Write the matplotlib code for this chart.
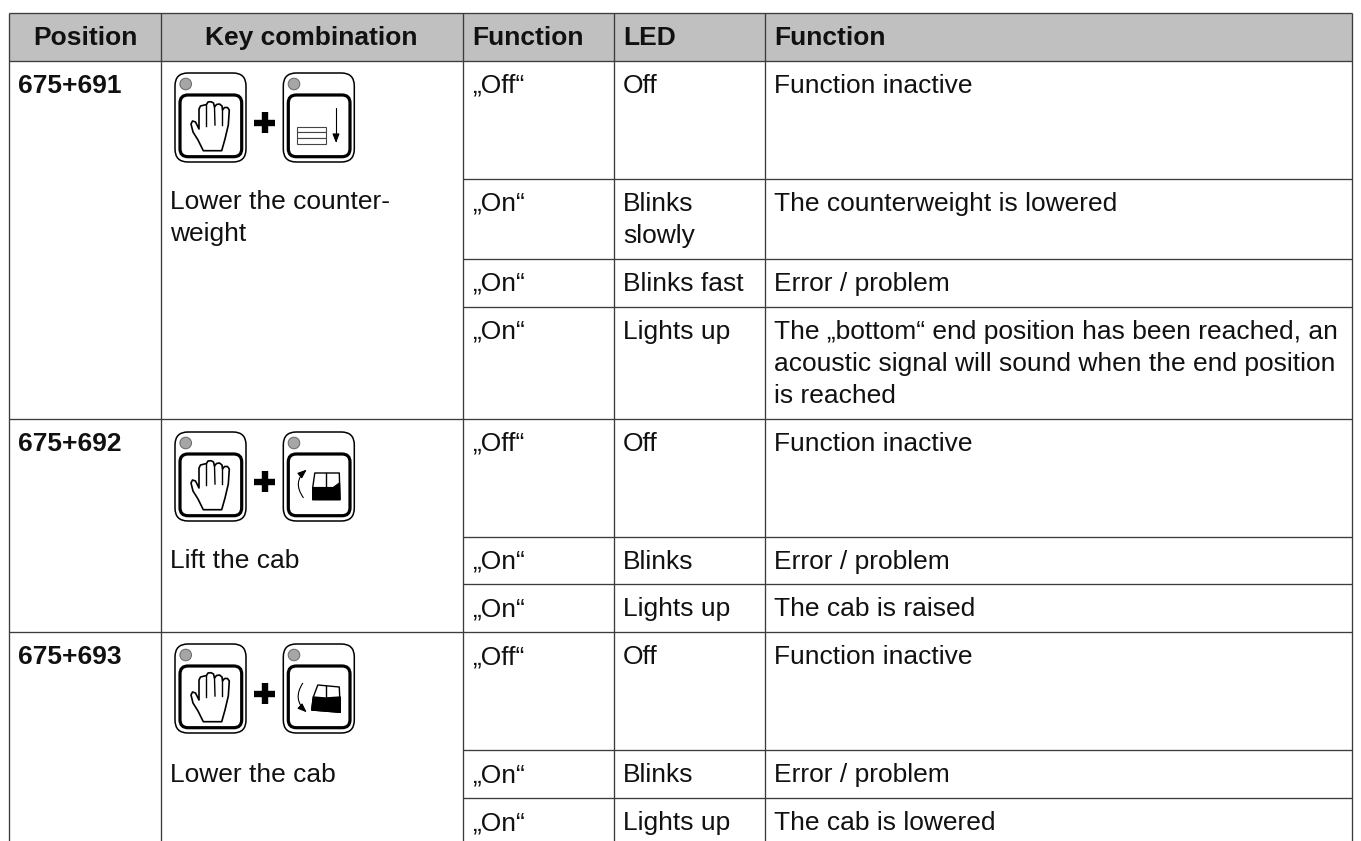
"""Key combination table, drawn in pixel coordinates."""
import matplotlib
matplotlib.use("Agg")
import matplotlib.pyplot as plt
from matplotlib.patches import FancyArrowPatch, FancyBboxPatch, Circle, Rectangle, Polygon
from matplotlib.path import Path

plt.rcParams["font.family"] = ["Liberation Sans", "DejaVu Sans"]

W, H = 1361, 841
LINE = "#3c3c3c"
HEAD = "#c0c0c0"
INK = "#111111"
FS = 19

COL_X = [9.5, 161, 463.5, 614.5, 765.5, 1352]
TOP, HEAD_BOTTOM, BOTTOM = 13, 60.7, 841
HEADERS = ["Position", "Key combination", "Function", "LED", "Function"]
HEAD_X = [85, 311.7, 472, 623, 774]
HEAD_ALIGN = ["center", "center", "left", "left", "left"]

POSITIONS = ["675+691", "675+692", "675+693"]
BLOCK_Y = [60.7, 418.7, 632]
ROW_TOP = [60.7, 178.5, 259, 306.7, 418.7, 536.7, 584.3, 632, 750.3, 798.3]

ACTIONS = [["Lower the counter-", "weight"], ["Lift the cab"], ["Lower the cab"]]
ACTION_Y = [[209, 240.7], [568], [782]]

FUNC = ["„Off“", "„On“", "„On“", "„On“", "„Off“", "„On“", "„On“", "„Off“", "„On“", "„On“"]
LED = ["Off", "Blinks\nslowly", "Blinks fast", "Lights up", "Off", "Blinks", "Lights up",
       "Off", "Blinks", "Lights up"]
TEXT = ["Function inactive", "The counterweight is lowered", "Error / problem",
        "The „bottom“ end position has been reached, an\nacoustic signal will sound when the end position\nis reached",
        "Function inactive", "Error / problem", "The cab is raised",
        "Function inactive", "Error / problem", "The cab is lowered"]

KEY_TOP = [73, 432, 644]
KEY_X = [175, 283.3]
PLUS_X = 265
ICONS = ["down", "up", "lower"]

# outlines in px relative to the key's top left corner
HAND = [(28.3, 77.7), (46.7, 77.7), (50, 66), (53.3, 52), (54.3, 37), (52.5, 34.5), (49.5, 34.5), (47.5, 37),
        (47, 33), (44.5, 31), (41.5, 31.5), (39.5, 34), (38.5, 30), (36, 28.7), (33, 29), (31.5, 31.5),
        (29.5, 32), (25.5, 33), (24, 36), (24, 56), (20.5, 49), (17.5, 48), (16, 51), (18, 59), (23, 67)]
FINGERS = [[(31.5, 31.5), (31.5, 53)], [(39.5, 34), (40, 52)], [(47.5, 37), (47.5, 52)]]
CAB_UP = [(31.5, 41), (56, 41), (56.7, 67.6), (29.4, 67.6), (29.4, 55.6)]
CAB_UP_DARK = [(29.4, 55.6), (50, 55.6), (56.2, 51), (56.7, 67.6), (29.4, 67.6)]
CAB_LOW = [(34.5, 41), (56, 43), (57, 68.3), (28.4, 66), (30, 53)]
CAB_LOW_DARK = [(30, 53), (42, 54), (57, 53), (57, 68.3), (28.4, 66)]
ARROW_UP = [(20, 65.6), (9, 50), (23.4, 37.6)]
ARROW_LOW = [(19.4, 39.3), (9, 55), (23.4, 68.3)]

fig = plt.figure(figsize=(W / 100, H / 100), dpi=100)
ax = fig.add_axes([0, 0, 1, 1])
ax.set_xlim(0, W)
ax.set_ylim(H, 0)
ax.axis("off")

ax.add_patch(Rectangle((COL_X[0], TOP), COL_X[-1] - COL_X[0], HEAD_BOTTOM - TOP, fc=HEAD, ec="none"))


def hline(y, x0=COL_X[0], x1=COL_X[-1]):
    ax.plot([x0, x1], [y, y], color=LINE, lw=0.95, solid_capstyle="butt")


hline(TOP)
for y in BLOCK_Y:
    hline(y)
for y in ROW_TOP:
    if y not in BLOCK_Y:
        hline(y, COL_X[2])
for x in COL_X:
    ax.plot([x, x], [TOP, BOTTOM], color=LINE, lw=0.95, solid_capstyle="butt")

for x, lab, al in zip(HEAD_X, HEADERS, HEAD_ALIGN):
    ax.text(x, 45, lab, ha=al, va="baseline", fontsize=FS, fontweight="bold", color=INK)
for lab, y in zip(POSITIONS, BLOCK_Y):
    ax.text(18, y + 32.5, lab, ha="left", va="baseline", fontsize=FS, fontweight="bold", color=INK)
for lines, ys in zip(ACTIONS, ACTION_Y):
    for s, y in zip(lines, ys):
        ax.text(170, y, s, ha="left", va="baseline", fontsize=FS, color=INK)
for f, l, t, y in zip(FUNC, LED, TEXT, ROW_TOP):
    ax.text(472, y + 32, f, ha="left", va="baseline", fontsize=FS, color=INK)
    for col_x, s in ((623, l), (774, t)):
        for k, part in enumerate(s.split("\n")):
            ax.text(col_x, y + 32 + k * 32, part, ha="left", va="baseline", fontsize=FS, color=INK)


def rbox(x0, y0, x1, y1, r, lw):
    ax.add_patch(FancyBboxPatch((x0 + r, y0 + r), x1 - x0 - 2 * r, y1 - y0 - 2 * r,
                                boxstyle=f"round,pad={r},rounding_size={r}",
                                fc="white", ec="black", lw=lw, zorder=3))


def key(x, y):
    """Key cap with LED dot; x, y is the top left corner."""
    rbox(x, y, x + 71, y + 89, 13, 1.1)
    rbox(x + 5, y + 22, x + 66.7, y + 83.7, 8, 2.3)
    ax.add_patch(Circle((x + 10.7, y + 11), 5.8, fc="#a6a6a6", ec="#666666", lw=0.7, zorder=4))


def shape(x, y, pts, fc, lw=1.0):
    ax.add_patch(Polygon([(x + a, y + b) for a, b in pts], closed=True, fc=fc, ec="black",
                         lw=lw, joinstyle="round", zorder=5))


def hand(x, y):
    shape(x, y, HAND, "white", 1.2)
    for seg in FINGERS:
        ax.plot([x + p[0] for p in seg], [y + p[1] for p in seg], color="black", lw=1.0, zorder=6)


def plus(x, y):
    ax.plot([x - 10.5, x + 10.5], [y, y], color="black", lw=4.6, solid_capstyle="butt", zorder=5)
    ax.plot([x, x], [y - 10.5, y + 10.5], color="black", lw=4.6, solid_capstyle="butt", zorder=5)


def arrow(x, y, pts):
    pts = [(x + a, y + b) for a, b in pts]
    codes = [Path.MOVETO, Path.LINETO] if len(pts) == 2 else [Path.MOVETO, Path.CURVE3, Path.CURVE3]
    ax.add_patch(FancyArrowPatch(path=Path(pts, codes), arrowstyle="-|>,head_length=1.8,head_width=0.7",
                                 mutation_scale=3, color="black", lw=0.8, zorder=6))


for icon, y in zip(ICONS, KEY_TOP):
    key(KEY_X[0], y)
    hand(KEY_X[0], y)
    plus(PLUS_X, y + 49.7)
    x = KEY_X[1]
    key(x, y)
    if icon == "down":
        for k in range(3):
            ax.add_patch(Rectangle((x + 13.4, y + 53.7 + k * 5.6), 29, 5.6, fc="white", ec="#444444", lw=0.8, zorder=5))
        arrow(x, y, [(52.7, 35), (52.7, 70)])
    elif icon == "up":
        shape(x, y, CAB_UP, "white")
        shape(x, y, CAB_UP_DARK, "black")
        ax.plot([x + 43, x + 43], [y + 41, y + 56], color="black", lw=1, zorder=6)
        arrow(x, y, ARROW_UP)
    else:
        shape(x, y, CAB_LOW, "white")
        shape(x, y, CAB_LOW_DARK, "black")
        ax.plot([x + 43, x + 43], [y + 42, y + 54], color="black", lw=1, zorder=6)
        arrow(x, y, ARROW_LOW)

fig.savefig("out.png", dpi=100)
